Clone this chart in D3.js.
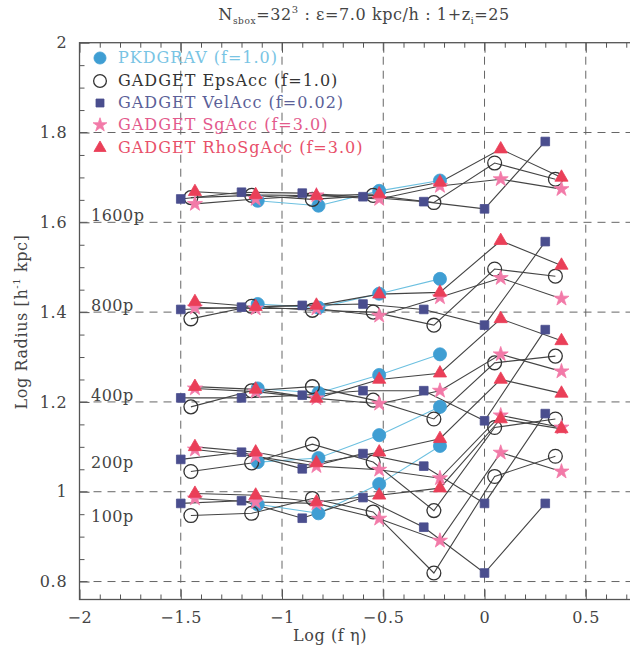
<!DOCTYPE html>
<html><head><meta charset="utf-8">
<script src="https://cdn.jsdelivr.net/npm/d3@7"></script>
<style>body{margin:0;background:#fff}svg{display:block}text{font-family:"DejaVu Serif","Liberation Serif",serif}</style>
</head><body>
<svg id="c" width="630" height="657"></svg>
<script>
// ---- data ----
const groupLabels = ["1600p","800p","400p","200p","100p"];
const groupLabelY = [1.6, 1.4, 1.2, 1.05, 0.93];
const xTicks = [-2,-1.5,-1,-0.5,0,0.5];
const yTicks = [0.8,1,1.2,1.4,1.6,1.8,2];
const seriesNames = ["PKDGRAV (f=1.0)","GADGET EpsAcc (f=1.0)","GADGET VelAcc (f=0.02)","GADGET SgAcc (f=3.0)","GADGET RhoSgAcc (f=3.0)"];

const xPkd = [-1.12,-0.82,-0.52,-0.22];
const xEps = [-1.45,-1.15,-0.85,-0.55,-0.25,0.05,0.35];
const xVel = [-1.5,-1.2,-0.9,-0.6,-0.3,0,0.3];
const xSg  = [-1.43,-1.13,-0.83,-0.52,-0.22,0.08,0.38];
const xRho = [-1.43,-1.13,-0.83,-0.52,-0.22,0.08,0.38];

// rows: 1600p, 800p, 400p, 200p, 100p
const pkdgrav = [
  [1.648,1.637,1.670,1.693],
  [1.418,1.410,1.441,1.474],
  [1.230,1.220,1.260,1.306],
  [1.066,1.075,1.126,1.189],
  [0.972,0.952,1.017,1.102]
];
const epsAcc = [
  [1.655,1.660,1.651,1.660,1.644,1.732,1.696],
  [1.385,1.413,1.404,1.400,1.371,1.496,1.480],
  [1.189,1.225,1.234,1.204,1.162,1.287,1.302],
  [1.045,1.064,1.106,1.066,0.958,1.143,1.162],
  [0.947,0.952,0.985,0.955,0.819,1.034,1.079]
];
const velAcc = [
  [1.652,1.667,1.665,1.657,1.646,1.630,1.780],
  [1.406,1.411,1.415,1.418,1.406,1.371,1.557],
  [1.209,1.209,1.215,1.225,1.225,1.158,1.361],
  [1.072,1.088,1.051,1.085,1.057,0.974,1.174],
  [0.974,0.980,0.941,0.987,0.921,0.819,0.974]
];
const sgAcc = [
  [1.641,1.652,1.660,1.652,1.681,1.696,1.674],
  [1.410,1.408,1.408,1.392,1.433,1.476,1.430],
  [1.230,1.223,1.208,1.196,1.225,1.306,1.268],
  [1.094,1.079,1.057,1.049,1.030,1.170,1.143],
  [0.985,0.977,0.974,0.940,0.891,1.087,1.045]
];
const rhoSgAcc = [
  [1.668,1.661,1.659,1.663,1.689,1.763,1.700],
  [1.423,1.412,1.415,1.440,1.444,1.559,1.504],
  [1.234,1.228,1.208,1.250,1.264,1.385,1.336],
  [1.100,1.088,1.064,1.088,1.118,1.250,1.219],
  [0.996,0.992,0.977,0.992,1.008,1.162,1.140]
];

// ---- drawing ----
const svg = d3.select("#c");
const x = d3.scaleLinear().domain([-2, 0.75]).range([79.5, 636.4]);
const y = d3.scaleLinear().domain([0.76, 2]).range([599.5, 42.7]);
const axisCol = "#555";
const txtCol = "#444";

// grid
const g = svg.append("g");
g.selectAll(".vg").data(xTicks.slice(1)).join("line")
  .attr("x1", d=>x(d)).attr("x2", d=>x(d)).attr("y1", y(2)).attr("y2", y(0.76))
  .attr("stroke","#666").attr("stroke-width",1).attr("stroke-dasharray","8,6");
g.selectAll(".hg").data(yTicks.slice(0,-1)).join("line")
  .attr("x1", x(-2)).attr("x2", x(0.75)).attr("y1", d=>y(d)).attr("y2", d=>y(d))
  .attr("stroke","#666").attr("stroke-width",1).attr("stroke-dasharray","8,6");

// frame
svg.append("rect").attr("x", x(-2)).attr("y", y(2)).attr("width", x(0.75)-x(-2)).attr("height", y(0.76)-y(2))
  .attr("fill","none").attr("stroke",axisCol).attr("stroke-width",1.3);

// ticks
const minorX = d3.range(-2, 0.76, 0.1).filter(v=>Math.abs(v*2-Math.round(v*2))>1e-6);
const minorY = d3.range(0.8, 2.001, 0.05).filter(v=>Math.abs(v*5-Math.round(v*5))>1e-6);
function styleAxis(sel){ sel.select(".domain").remove(); sel.selectAll("line").attr("stroke",axisCol); sel.selectAll("text").attr("fill",txtCol).attr("font-size",16).attr("letter-spacing",0.8); }
svg.append("g").attr("transform",`translate(0,${y(0.76)})`).call(d3.axisBottom(x).tickValues(xTicks).tickSize(-10).tickPadding(12).tickFormat(d3.format("")))
  .call(styleAxis);
svg.append("g").attr("transform",`translate(0,${y(0.76)})`).call(d3.axisBottom(x).tickValues(minorX).tickSize(-5).tickFormat("")).call(styleAxis);
svg.append("g").attr("transform",`translate(0,${y(2)})`).call(d3.axisTop(x).tickValues(xTicks).tickSize(-10).tickFormat("")).call(styleAxis);
svg.append("g").attr("transform",`translate(0,${y(2)})`).call(d3.axisTop(x).tickValues(minorX).tickSize(-5).tickFormat("")).call(styleAxis);
svg.append("g").attr("transform",`translate(${x(-2)},0)`).call(d3.axisLeft(y).tickValues(yTicks).tickSize(-10).tickPadding(12).tickFormat(d3.format("")))
  .call(styleAxis);
svg.append("g").attr("transform",`translate(${x(-2)},0)`).call(d3.axisLeft(y).tickValues(minorY).tickSize(-5).tickFormat("")).call(styleAxis);

// group labels
svg.selectAll(".gl").data(groupLabels).join("text")
  .attr("x", 91).attr("y", (d,i)=>y(groupLabelY[i])-1).attr("font-size",16).attr("letter-spacing",0.5).attr("fill",txtCol).text(d=>d);

// titles
const t = svg.append("text").attr("x", 364).attr("y", 20).attr("text-anchor","middle").attr("font-size",16).attr("letter-spacing",0.6).attr("fill",txtCol);
t.append("tspan").text("N");
t.append("tspan").attr("font-size",9).attr("dy",4).text("sbox");
t.append("tspan").attr("dy",-4).text("=32");
t.append("tspan").attr("font-size",10).attr("dy",-7).text("3");
t.append("tspan").attr("dy",7).text(" : ε=7.0 kpc/h : 1+z");
t.append("tspan").attr("font-size",9).attr("dy",4).text("i");
t.append("tspan").attr("dy",-4).text("=25");

svg.append("text").attr("x", 330).attr("y", 641).attr("text-anchor","middle").attr("font-size",16).attr("letter-spacing",0.6).attr("fill",txtCol).text("Log (f η)");
const yl = svg.append("text").attr("transform","translate(27,322) rotate(-90)").attr("text-anchor","middle").attr("font-size",16).attr("letter-spacing",0.6).attr("fill",txtCol);
yl.append("tspan").text("Log Radius [h");
yl.append("tspan").attr("font-size",10).attr("dy",-7).text("-1");
yl.append("tspan").attr("dy",7).text(" kpc]");

// series
const lineGray = "#444";
const series = [
  {xs:xPkd, data:pkdgrav, line:"#6cc0e0", sym:d3.symbolCircle, size:135, fill:"#3f9ed3", stroke:"#3f9ed3", text:"#79c4e4"},
  {xs:xEps, data:epsAcc, line:lineGray, sym:d3.symbolCircle, size:150, fill:"none", stroke:"#333", text:"#333"},
  {xs:xVel, data:velAcc, line:lineGray, sym:d3.symbolSquare, size:75, fill:"#4a4e8e", stroke:"#4a4e8e", text:"#5b5f98"},
  {xs:xSg, data:sgAcc, line:lineGray, sym:d3.symbolStar, size:70, fill:"#f27aa8", stroke:"#f27aa8", text:"#e35a8c"},
  {xs:xRho, data:rhoSgAcc, line:lineGray, sym:d3.symbolTriangle, size:75, fill:"#ea3f58", stroke:"#ea3f58", text:"#e8506a"}
];
const lineGen = d3.line().x(d=>x(d[0])).y(d=>y(d[1]));
series.forEach(s=>{
  s.data.forEach(row=>{
    const pts = row.map((v,i)=>[s.xs[i], v]);
    svg.append("path").attr("d", lineGen(pts)).attr("fill","none").attr("stroke", s.line).attr("stroke-width",1.1);
  });
});
series.forEach(s=>{
  s.data.forEach(row=>{
    row.forEach((v,i)=>{
      svg.append("path").attr("d", d3.symbol(s.sym, s.size)()).attr("transform",`translate(${x(s.xs[i])},${y(v)})`)
        .attr("fill", s.fill).attr("stroke", s.stroke).attr("stroke-width", s.fill==="none"?1.3:0.8);
    });
  });
});

// legend
const legY = [58, 81, 103, 125, 148];
series.forEach((s,i)=>{
  svg.append("path").attr("d", d3.symbol(s.sym, s.size*0.85)()).attr("transform",`translate(100,${legY[i]})`)
    .attr("fill", s.fill).attr("stroke", s.stroke).attr("stroke-width", s.fill==="none"?1.3:0.8);
  svg.append("text").attr("x", 118).attr("y", legY[i]+5).attr("font-size",16).attr("letter-spacing",1).attr("fill", s.text).text(seriesNames[i]);
});
</script>
</body></html>
